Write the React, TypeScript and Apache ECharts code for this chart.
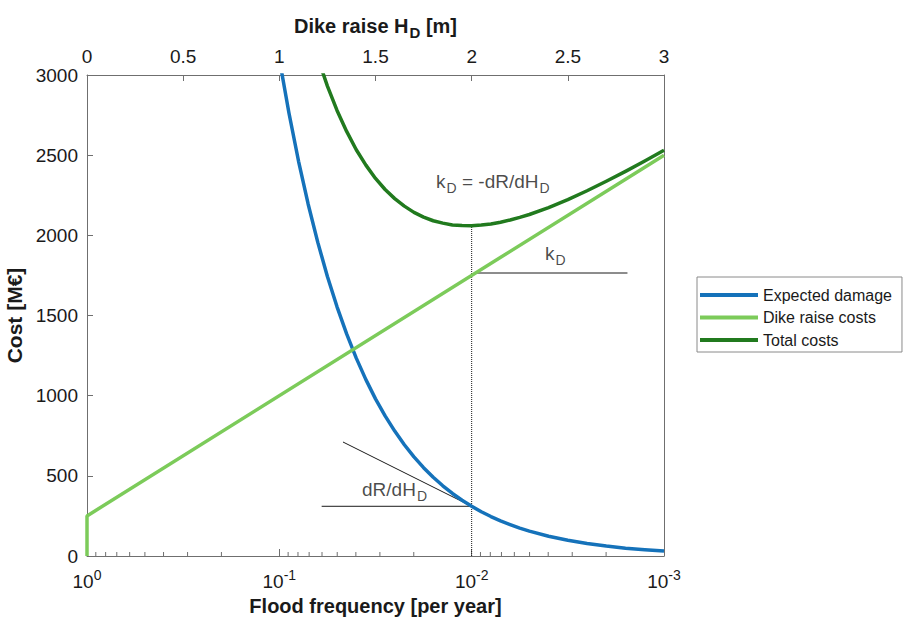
import React, { useEffect, useRef } from "react";
import * as echarts from "echarts";

// Dike raise H_D [m] (top axis); flood frequency = 10^-H (bottom log axis)
const hValues = [1.0, 1.05, 1.1, 1.15, 1.2, 1.25, 1.3, 1.35, 1.4, 1.45, 1.5, 1.55, 1.6, 1.65, 1.7, 1.75, 1.8, 1.85, 1.9, 1.95, 2.0, 2.05, 2.1, 2.15, 2.2, 2.25, 2.3, 2.4, 2.5, 2.6, 2.7, 2.8, 2.9, 3.0];
const expectedDamage = [3100, 2763, 2462, 2194, 1956, 1743, 1554, 1385, 1234, 1100, 980, 874, 779, 694, 618, 551, 491, 438, 390, 348, 310, 276, 246, 219, 196, 174, 155, 123, 98, 78, 62, 49, 39, 31];
const totalCosts = [4100, 3800, 3537, 3307, 3106, 2931, 2779, 2648, 2534, 2438, 2355, 2286, 2229, 2182, 2143, 2114, 2091, 2076, 2065, 2061, 2060, 2064, 2071, 2082, 2096, 2112, 2130, 2173, 2223, 2278, 2337, 2399, 2464, 2531];
const dikeH = [0, 0, 3];
const dikeCosts = [0, 250, 2500];

const minorFreqTicks = [0.9, 0.8, 0.7, 0.6, 0.5, 0.4, 0.3, 0.2, 0.09, 0.08, 0.07, 0.06, 0.05, 0.04, 0.03, 0.02, 0.009, 0.008, 0.007, 0.006, 0.005, 0.004, 0.003, 0.002];

// annotations [H, cost]
const optimumLine = [[2, 0], [2, 2065]];
const kdLine = [[2.02, 1765], [2.81, 1765]];
const tangentLine = [[1.331, 711], [2, 310]];
const dRLine = [[1.22, 310], [2, 310]];
const labelKdEq = [1.815, 2333];
const labelKd = [2.381, 1884];
const labelDR = [1.43, 412];

const FONT = "'Liberation Sans', Arial, Helvetica, sans-serif";
const TXT = "#1a1a1a";
const AX = "#6f6f6f";
const BLUE = "#1572BA";
const LGREEN = "#7CCB5A";
const DGREEN = "#217A1E";

const subRich = {
  t: { fontSize: 19, fontFamily: FONT, color: TXT, verticalAlign: "middle" },
  s: { fontSize: 14, fontFamily: FONT, color: TXT, verticalAlign: "middle", padding: [12, 0, 0, 1] },
};

function pairs(xs: number[], ys: number[]) {
  return xs.map((x, i) => [x, ys[i]]);
}

function labelSeries(pos: number[], text: string) {
  return {
    type: "scatter",
    xAxisIndex: 0,
    yAxisIndex: 0,
    symbolSize: 0,
    silent: true,
    data: [pos],
    label: {
      show: true,
      position: "right",
      distance: 0,
      color: TXT,
      formatter: text,
      rich: subRich,
    },
  };
}

function lineAnno(data: number[][], type: string) {
  return {
    type: "line",
    xAxisIndex: 0,
    yAxisIndex: 0,
    data,
    showSymbol: false,
    symbol: "none",
    silent: true,
    lineStyle: { color: "#1a1a1a", width: 1, type },
    z: 1,
  };
}

export default function App() {
  const ref = useRef<HTMLDivElement>(null);
  useEffect(() => {
    if (!ref.current) return;
    const chart = echarts.init(ref.current, null, { renderer: "svg" });
    chart.setOption({
      animation: false,
      backgroundColor: "#ffffff",
      textStyle: { fontFamily: FONT, color: TXT },
      grid: { left: 87, right: 240, top: 75, bottom: 69, containLabel: false, outerBoundsMode: "none" },
      legend: {
        orient: "vertical",
        left: 697,
        top: 277,
        data: ["Expected damage", "Dike raise costs", "Total costs"],
        icon: "rect",
        itemWidth: 58,
        itemHeight: 4,
        itemGap: 4.5,
        padding: [9, 10, 3, 3],
        backgroundColor: "#ffffff",
        borderColor: "#8a8a8a",
        borderWidth: 1,
        textStyle: { fontSize: 16, fontFamily: FONT, color: TXT, lineHeight: 18 },
      },
      xAxis: [
        {
          type: "value",
          position: "top",
          min: 0,
          max: 3,
          interval: 0.5,
          name: "{b|Dike raise H}{bs|D}{b| [m]}",
          nameLocation: "middle",
          nameGap: 35,
          nameTextStyle: {
            rich: {
              b: { fontSize: 20, fontWeight: "bold", fontFamily: FONT, color: TXT, verticalAlign: "middle" },
              bs: { fontSize: 15, fontWeight: "bold", fontFamily: FONT, color: TXT, verticalAlign: "middle", padding: [14, 0, 0, 1] },
            },
          },
          axisLine: { show: true, onZero: false, lineStyle: { color: AX, width: 1 } },
          axisTick: { show: true, inside: true, length: 6, lineStyle: { color: AX } },
          axisLabel: { fontSize: 19, color: TXT, margin: 9, fontFamily: FONT, formatter: (v: number) => String(v) },
          splitLine: { show: false },
        },
        {
          type: "log",
          logBase: 10,
          position: "bottom",
          inverse: true,
          min: 0.001,
          max: 1,
          name: "Flood frequency [per year]",
          nameLocation: "middle",
          nameGap: 39,
          nameTextStyle: { fontSize: 20, fontWeight: "bold", color: TXT, fontFamily: FONT },
          axisLine: { show: true, onZero: false, lineStyle: { color: AX, width: 1 } },
          axisTick: { show: true, inside: true, length: 7, lineStyle: { color: AX } },
          axisLabel: {
            margin: 12,
            formatter: (v: number) => `{b|10}{p|${Math.round(Math.log10(v))}}`,
            rich: {
              b: { fontSize: 19, fontFamily: FONT, color: TXT, verticalAlign: "middle" },
              p: { fontSize: 14, fontFamily: FONT, color: TXT, verticalAlign: "middle", padding: [0, 0, 13, 0] },
            },
          },
          splitLine: { show: false },
          minorTick: { show: false },
        },
      ],
      yAxis: [
        {
          type: "value",
          min: 0,
          max: 3000,
          interval: 500,
          name: "Cost [M€]",
          nameLocation: "middle",
          nameGap: 52,
          nameTextStyle: { fontSize: 21, fontWeight: "bold", color: TXT, fontFamily: FONT },
          axisLine: { show: true, onZero: false, lineStyle: { color: AX, width: 1 } },
          axisTick: { show: true, inside: true, length: 6, lineStyle: { color: AX } },
          axisLabel: { fontSize: 19, color: TXT, margin: 9, fontFamily: FONT, formatter: (v: number) => String(v) },
          splitLine: { show: false },
        },
        {
          type: "value",
          position: "right",
          min: 0,
          max: 3000,
          interval: 500,
          axisLine: { show: true, onZero: false, lineStyle: { color: AX, width: 1 } },
          axisTick: { show: false },
          axisLabel: { show: false },
          splitLine: { show: false },
        },
      ],
      series: [
        {
          name: "Expected damage",
          type: "line",
          xAxisIndex: 0,
          yAxisIndex: 0,
          data: pairs(hValues, expectedDamage),
          showSymbol: false,
          symbol: "none",
          clip: true,
          color: BLUE,
          lineStyle: { color: BLUE, width: 3.5, join: "round" },
          z: 3,
        },
        {
          name: "Dike raise costs",
          type: "line",
          xAxisIndex: 0,
          yAxisIndex: 0,
          data: pairs(dikeH, dikeCosts),
          showSymbol: false,
          symbol: "none",
          clip: true,
          color: LGREEN,
          lineStyle: { color: LGREEN, width: 3.5 },
          z: 4,
        },
        {
          name: "Total costs",
          type: "line",
          xAxisIndex: 0,
          yAxisIndex: 0,
          data: pairs(hValues, totalCosts),
          showSymbol: false,
          symbol: "none",
          clip: true,
          color: DGREEN,
          lineStyle: { color: DGREEN, width: 3.5, join: "round" },
          z: 5,
        },
        lineAnno(optimumLine, "dotted"),
        lineAnno(kdLine, "solid"),
        lineAnno(tangentLine, "solid"),
        lineAnno(dRLine, "solid"),
        labelSeries(labelKdEq, "{t|k}{s|D}{t| = -dR/dH}{s|D}"),
        labelSeries(labelKd, "{t|k}{s|D}"),
        labelSeries(labelDR, "{t|dR/dH}{s|D}"),
        {
          type: "custom",
          xAxisIndex: 1,
          yAxisIndex: 0,
          silent: true,
          data: minorFreqTicks.map((v) => [v, 0]),
          renderItem: (params: any, api: any) => {
            const p = api.coord([api.value(0), 0]);
            return {
              type: "line",
              shape: { x1: p[0], y1: p[1], x2: p[0], y2: p[1] - 4 },
              style: { stroke: AX, lineWidth: 1 },
            };
          },
        },
      ],
    });
    return () => chart.dispose();
  }, []);
  return <div ref={ref} style={{ width: 904, height: 625, position: "absolute", left: 0, top: 0 }} />;
}
